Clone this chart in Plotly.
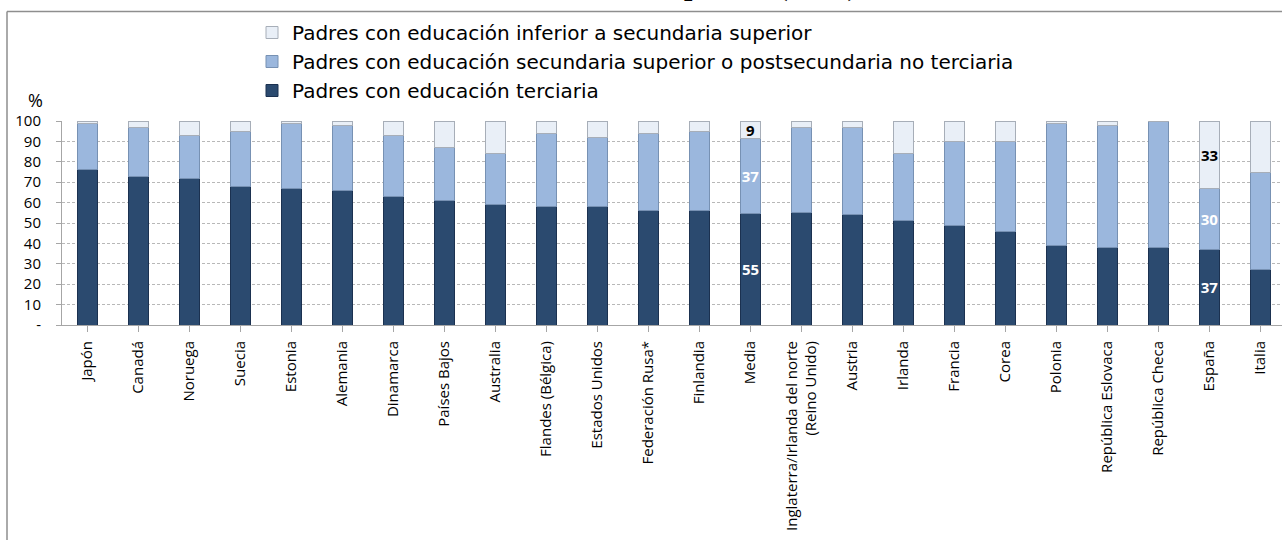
import plotly.graph_objects as go

categorias = ["Japón", "Canadá", "Noruega", "Suecia", "Estonia", "Alemania", "Dinamarca",
              "Países Bajos", "Australia", "Flandes (Bélgica)", "Estados Unidos",
              "Federación Rusa*", "Finlandia", "Media",
              "Inglaterra/Irlanda del norte<br>(Reino Unido)", "Austria", "Irlanda",
              "Francia", "Corea", "Polonia", "República Eslovaca", "República Checa",
              "España", "Italia"]

terciaria = [76, 73, 72, 68, 67, 66, 63, 61, 59, 58, 58, 56, 56, 54.6, 55, 54, 51, 49, 46,
             39, 38, 38, 37, 27]
secundaria = [23, 24, 21, 27, 32, 32, 30, 26, 25, 36, 34, 38, 39, 36.8, 42, 43, 33, 41, 44,
              60, 60, 62, 30, 48]
inferior = [1, 3, 7, 5, 1, 2, 7, 13, 16, 6, 8, 6, 5, 8.6, 3, 3, 16, 10, 10, 1, 2, 0, 33, 25]

etiquetadas = ["Media", "España"]

nombres = ["Padres con educación terciaria",
           "Padres con educación secundaria superior o postsecundaria no terciaria",
           "Padres con educación inferior a secundaria superior"]

y_ticks = [0, 10, 20, 30, 40, 50, 60, 70, 80, 90, 100]
y_ticktext = ["-", "10", "20", "30", "40", "50", "60", "70", "80", "90", "100"]

titulo = "padres (2012)"

FONT = "Open Sans"


def etiquetas(vals):
    return [f"{v:.0f}" if c in etiquetadas else "" for c, v in zip(categorias, vals)]


fig = go.Figure()
estilos = [
    (terciaria, "#2B4A6F", "#1B3150", "white"),
    (secundaria, "#9BB7DD", "#7791B3", "white"),
    (inferior, "#E9EFF7", "#A7AEB8", "black"),
]
for (vals, fill, line, tcol), nombre in zip(estilos, nombres):
    fig.add_trace(go.Bar(
        x=list(range(len(categorias))), y=vals, name=nombre,
        marker=dict(color=fill, line=dict(color=line, width=1)),
        text=etiquetas(vals), textposition="inside", insidetextanchor="middle",
        constraintext="none", textangle=0,
        textfont=dict(family=FONT, size=15, color=tcol, weight="bold"),
        hoverinfo="skip",
    ))

# plot area in pixels: x 62..1282, y 121..325
L, T, B = 62, 121, 325
W = 1282 - L
H = B - T


def px_x(p):
    return (p - L) / W


def px_y(p):
    return (B - p) / H


fig.update_layout(
    width=1282, height=540,
    margin=dict(l=L, r=0, t=T, b=540 - B, pad=0),
    barmode="stack", bargap=0.59,
    plot_bgcolor="white", paper_bgcolor="white",
    font=dict(family=FONT, color="black"),
    showlegend=True,
    legend=dict(x=px_x(252), y=px_y(13), xanchor="left", yanchor="top",
                font=dict(family="DejaVu Sans", size=20, color="black"),
                bgcolor="rgba(0,0,0,0)", tracegroupgap=0, itemwidth=30),
    xaxis=dict(
        tickmode="array", tickvals=list(range(len(categorias))), ticktext=categorias,
        range=[-0.5, -0.5 + W / 51.0], tickangle=-90, tickson="boundaries",
        ticks="outside", ticklen=6, tickcolor="#A6A6A6",
        showline=True, linecolor="#A6A6A6", linewidth=1, showgrid=False,
        tickfont=dict(family=FONT, size=15, color="black"),
        ticklabelstandoff=3,
    ),
    yaxis=dict(
        range=[0, 100], tickmode="array", tickvals=y_ticks, ticktext=y_ticktext,
        ticks="outside", ticklen=5, tickcolor="#A6A6A6",
        showline=True, linecolor="#A6A6A6", linewidth=1,
        showgrid=True, gridcolor="#B8B8B8", gridwidth=1, griddash="3px,2px",
        zeroline=False,
        tickfont=dict(family=FONT, size=15, color="black"),
        ticklabelstandoff=12,
    ),
)

fig.add_annotation(text="%", x=px_x(35), y=px_y(100), xref="paper", yref="paper",
                   showarrow=False, font=dict(family=FONT, size=18, color="black"),
                   xanchor="center", yanchor="middle")

fig.add_annotation(text=titulo, x=px_x(860), y=px_y(4), xref="paper", yref="paper",
                   showarrow=False, xanchor="right", yanchor="bottom",
                   font=dict(family="Liberation Serif", size=30, color="black", weight="bold"))

# chart frame (top and left edges visible)
fig.add_shape(type="line", xref="paper", yref="paper",
              x0=px_x(7), x1=px_x(1290), y0=px_y(11.5), y1=px_y(11.5),
              line=dict(color="#8E8E8E", width=1.5))
fig.add_shape(type="line", xref="paper", yref="paper",
              x0=px_x(7), x1=px_x(7), y0=px_y(11.5), y1=px_y(560),
              line=dict(color="#8E8E8E", width=1.5))

fig.write_html("out.html", config={"displayModeBar": False},
               post_script="document.body.style.margin='0px';")
